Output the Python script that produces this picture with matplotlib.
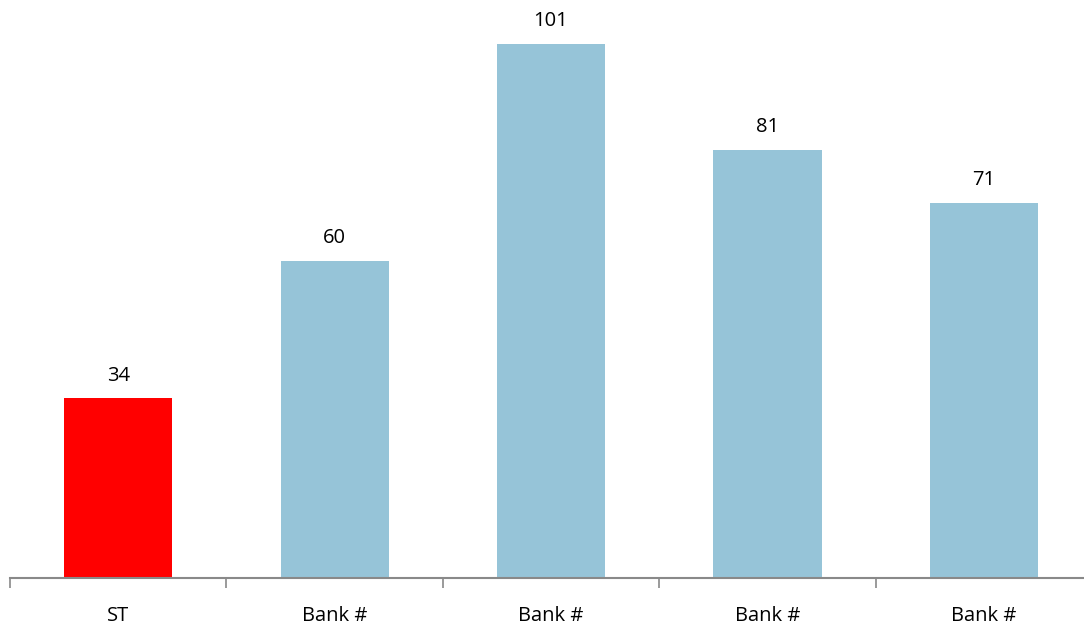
import matplotlib.pyplot as plt

categorias = ['ST', 'Bank #', 'Bank #', 'Bank #', 'Bank #']
valores = [34, 60, 101, 81, 71]
colores = ['#FF0000', '#96C4D8', '#96C4D8', '#96C4D8', '#96C4D8']

plt.rcParams['font.family'] = ['Open Sans', 'DejaVu Sans']

fig = plt.figure(figsize=(10.84, 6.31), dpi=100)
# the axis runs past the right edge of the picture, like the original
ax = fig.add_axes([10 / 1084, (631 - 578) / 631, 1082 / 1084, 578 / 631])

x = list(range(len(categorias)))
barras = ax.bar(x, valores, width=0.5, color=colores)

for xi, v in zip(x, valores):
    ax.annotate(str(v), (xi, v), xytext=(0, 9), textcoords='offset points',
                ha='center', va='bottom', fontsize=14.5, color='#000000')

ax.set_xlim(-0.5, len(categorias) - 0.5)
ax.set_ylim(0, 109.3)

ax.set_xticks(x)
ax.set_xticklabels(categorias, fontsize=14.5)
ax.set_xticks([i - 0.5 for i in range(len(categorias) + 1)], minor=True)
ax.tick_params(axis='x', which='major', length=0, pad=20)
ax.tick_params(axis='x', which='minor', length=7, width=1.2, color='#898989')
ax.set_yticks([])

for lado in ['top', 'right', 'left']:
    ax.spines[lado].set_visible(False)
ax.spines['bottom'].set_color('#898989')
ax.spines['bottom'].set_linewidth(1.5)

fig.savefig('out.png', dpi=100)
